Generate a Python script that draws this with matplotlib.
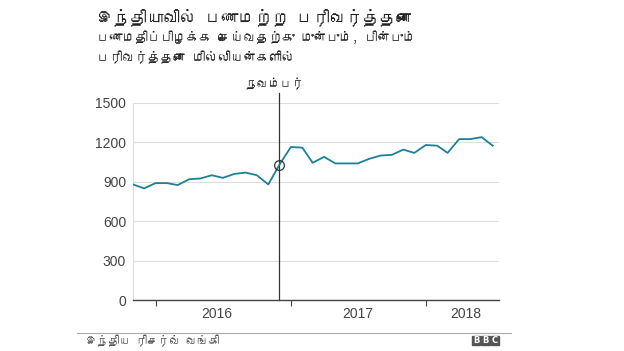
import matplotlib
matplotlib.use("Agg")
import matplotlib.pyplot as plt
from matplotlib import font_manager
from matplotlib.ft2font import FT2Font
from matplotlib.patches import Rectangle
import pandas as pd

# find a font that has Tamil glyphs
tamil_font = None
for f in font_manager.fontManager.ttflist:
    try:
        if 0x0B87 in FT2Font(f.fname).get_charmap():
            tamil_font = f.name
            break
    except Exception:
        pass
fams = ([tamil_font] if tamil_font else []) + ["DejaVu Sans"]
plt.rcParams["font.family"] = fams
num_font = ["Liberation Sans", "DejaVu Sans"]

title = "இந்தியாவில் பணமற்ற பரிவர்த்தனை"
subtitle = "பணமதிப்பிழக்க செய்வதற்கு முன்பும், பின்பும்\nபரிவர்த்தனை மில்லியன்களில்"
marker_label = "நவம்பர்"
source = "இந்திய ரிசர்வ் வங்கி"

months = pd.date_range("2015-11-01", periods=33, freq="MS")
values = [880, 850, 890, 890, 875, 920, 925, 950, 930, 960, 970, 950, 880,
          1030, 1165, 1160, 1045, 1090, 1040, 1040, 1040, 1075, 1100, 1105,
          1145, 1120, 1180, 1175, 1120, 1225, 1225, 1240, 1175]
demon_date = pd.Timestamp("2016-12-01")
year_ticks = pd.to_datetime(["2016-01-01", "2017-01-01", "2018-01-01"])
year_labels = ["2016", "2017", "2018"]
year_label_pos = pd.to_datetime(["2016-06-15", "2017-07-01", "2018-04-20"])
y_ticks = [0, 300, 600, 900, 1200, 1500]

fig = plt.figure(figsize=(6.24, 3.51), dpi=100)
ax = fig.add_axes([133 / 624, 1 - 300 / 351, (499 - 133) / 624, (300 - 103) / 351])

ax.plot(months, values, color="#1c8197", lw=1.3, zorder=3)
ax.axvline(demon_date, color="#333333", lw=0.9, ymin=0, ymax=1.05, clip_on=False, zorder=2)
dv = values[list(months).index(demon_date)]
ax.plot([demon_date], [dv], "o", ms=7, mfc="none", mec="#333333", mew=0.9, zorder=4)

ax.set_ylim(0, 1500)
ax.set_xlim(months[0], pd.Timestamp("2018-07-18"))
ax.set_yticks(y_ticks)
ax.set_yticklabels([str(v) for v in y_ticks], family=num_font)
ax.grid(axis="y", color="#dddddd", lw=0.8)
ax.set_axisbelow(True)
ax.tick_params(axis="y", length=0, labelsize=10, colors="#444444", pad=5)

ax.set_xticks(year_ticks)
ax.set_xticklabels([])
ax.tick_params(axis="x", which="major", length=4, color="#444444", direction="out")
ax.set_xticks(year_label_pos, minor=True)
ax.set_xticklabels(year_labels, minor=True, family=num_font)
ax.tick_params(axis="x", which="minor", length=0, labelsize=10, colors="#444444", pad=5)

for s in ["top", "right"]:
    ax.spines[s].set_visible(False)
ax.spines["left"].set_color("#dddddd")
ax.spines["bottom"].set_color("#444444")
ax.spines["bottom"].set_linewidth(1.0)

fig.text(97 / 624, 1 - 17 / 351, title, fontsize=12, color="#222222", va="center")
fig.text(97 / 624, 1 - 47 / 351, subtitle, fontsize=9.2, color="#222222", va="center",
         linespacing=1.6)
fig.text(275 / 624, 1 - 84 / 351, marker_label, fontsize=8.5, color="#222222",
         ha="center", va="center")

fig.add_artist(plt.Line2D([77 / 624, 511 / 624], [1 - 333 / 351] * 2, color="#aaaaaa", lw=0.8))
fig.text(86 / 624, 1 - 341 / 351, source, fontsize=8, color="#555555", va="center")

# BBC blocks
for i, ch in enumerate("BBC"):
    x0 = (472 + i * 9.3) / 624
    fig.add_artist(Rectangle((x0, 1 - 345 / 351), 8.3 / 624, 9 / 351,
                             transform=fig.transFigure, color="#555555"))
    fig.text(x0 + 4.15 / 624, 1 - 340.5 / 351, ch, fontsize=6, color="white",
             ha="center", va="center", fontweight="bold", family="DejaVu Sans")

fig.savefig("out.png", dpi=100)
